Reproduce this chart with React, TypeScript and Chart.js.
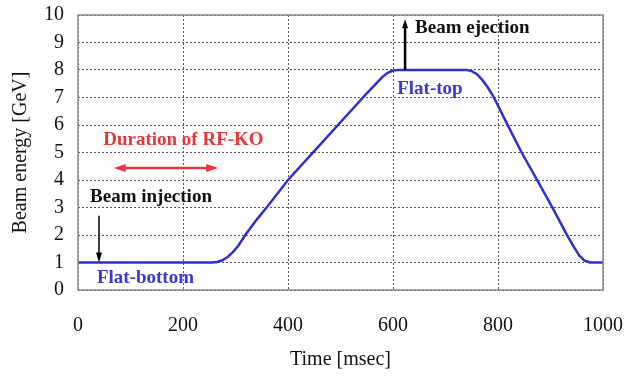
import React, { useEffect, useRef } from "react";
import { Chart, registerables } from "chart.js";

Chart.register(...registerables);

const timeMs = [0, 255, 265, 275, 285, 295, 305, 318, 340, 360, 400, 450, 500, 550, 570, 580, 590, 600, 610, 740, 750, 760, 770, 780, 790, 800, 817, 845, 876, 905, 930, 945, 955, 965, 975, 1000];
const energyGeV = [1, 1, 1.02, 1.08, 1.2, 1.38, 1.6, 1.98, 2.55, 3.02, 4.0, 5.05, 6.1, 7.15, 7.55, 7.75, 7.9, 7.98, 8, 8, 7.96, 7.85, 7.64, 7.38, 7.08, 6.7, 6.05, 5.0, 3.95, 2.95, 2.05, 1.55, 1.25, 1.07, 1, 1];
const xTicks = [0, 200, 400, 600, 800, 1000];
const yTicks = [0, 1, 2, 3, 4, 5, 6, 7, 8, 9, 10];

const SERIF = "'Liberation Serif', 'DejaVu Serif', serif";

const annotPlugin = {
  id: "annot",
  afterDatasetsDraw(chart: any) {
    const { ctx, chartArea, scales } = chart;
    const X = (v: number) => scales.x.getPixelForValue(v);
    const Y = (v: number) => scales.y.getPixelForValue(v);
    ctx.save();
    ctx.strokeStyle = "#8a8a8a";
    ctx.lineWidth = 1.5;
    ctx.strokeRect(chartArea.left, chartArea.top, chartArea.right - chartArea.left, chartArea.bottom - chartArea.top);

    const arrowHead = (x: number, y: number, ang: number, size: number, w: number) => {
      ctx.beginPath();
      ctx.moveTo(x, y);
      ctx.lineTo(x - size * Math.cos(ang) + w * Math.sin(ang), y - size * Math.sin(ang) - w * Math.cos(ang));
      ctx.lineTo(x - size * Math.cos(ang) - w * Math.sin(ang), y - size * Math.sin(ang) + w * Math.cos(ang));
      ctx.closePath();
      ctx.fill();
    };

    ctx.strokeStyle = "#000";
    ctx.fillStyle = "#000";
    ctx.lineWidth = 2.5;
    let x = X(623);
    ctx.beginPath();
    ctx.moveTo(x, Y(8));
    ctx.lineTo(x, Y(9.6));
    ctx.stroke();
    arrowHead(x, Y(9.85), -Math.PI / 2, 9, 3);

    x = X(40);
    ctx.lineWidth = 1.5;
    ctx.beginPath();
    ctx.moveTo(x, Y(2.7));
    ctx.lineTo(x, Y(1.3));
    ctx.stroke();
    arrowHead(x, Y(1.0), Math.PI / 2, 10, 3);

    ctx.strokeStyle = "#e8353a";
    ctx.fillStyle = "#e8353a";
    ctx.lineWidth = 2.5;
    const yy = Y(4.44);
    const x1 = X(68), x2 = X(267);
    ctx.beginPath();
    ctx.moveTo(x1 + 8, yy);
    ctx.lineTo(x2 - 8, yy);
    ctx.stroke();
    arrowHead(x1, yy, Math.PI, 12, 4);
    arrowHead(x2, yy, 0, 12, 4);

    ctx.font = `bold 19px ${SERIF}`;
    ctx.textBaseline = "middle";
    ctx.textAlign = "left";
    ctx.fillStyle = "#111";
    ctx.fillText("Beam ejection", X(642), Y(9.53));
    ctx.fillText("Beam injection", X(23), Y(3.38));
    ctx.fillStyle = "#3a3ad0";
    ctx.fillText("Flat-top", X(608), Y(7.3));
    ctx.fillText("Flat-bottom", X(36), Y(0.44));
    ctx.fillStyle = "#e8353a";
    ctx.fillText("Duration of RF-KO", X(48), Y(5.45));
    ctx.restore();
  },
};

export default function App() {
  const ref = useRef<HTMLCanvasElement | null>(null);
  useEffect(() => {
    if (!ref.current) return;
    const chart = new Chart(ref.current, {
      type: "line",
      data: {
        datasets: [
          {
            data: timeMs.map((t, i) => ({ x: t, y: energyGeV[i] })),
            borderColor: "#2f2fd0",
            borderWidth: 2.5,
            pointRadius: 0,
            tension: 0,
            fill: false,
          },
        ],
      },
      options: {
        animation: false,
        responsive: false,
        maintainAspectRatio: false,
        layout: { padding: { top: 15, right: 25, left: 0, bottom: 0 } },
        plugins: { legend: { display: false }, tooltip: { enabled: false } },
        scales: {
          x: {
            type: "linear",
            min: 0,
            max: 1000,
            afterBuildTicks: (ax: any) => {
              ax.ticks = xTicks.map((v) => ({ value: v }));
            },
            afterFit: (ax: any) => {
              ax.height = 86;
              ax.paddingLeft = 0;
              ax.paddingRight = 0;
            },
            grid: { color: "#555", lineWidth: 1, drawTicks: false },
            border: { display: false, dash: [2, 2] },
            ticks: { color: "#111", padding: 24, autoSkip: false, maxRotation: 0, font: { family: SERIF, size: 20 }, callback: (v: any) => String(v) },
            title: { display: true, text: "Time [msec]", color: "#111", font: { family: SERIF, size: 20 }, padding: { top: 6 } },
          },
          y: {
            type: "linear",
            min: 0,
            max: 10,
            afterBuildTicks: (ax: any) => {
              ax.ticks = yTicks.map((v) => ({ value: v }));
            },
            afterFit: (ax: any) => {
              ax.width = 78;
              ax.paddingTop = 0;
              ax.paddingBottom = 0;
            },
            grid: { color: "#555", lineWidth: 1, drawTicks: false },
            border: { display: false, dash: [2, 2] },
            ticks: { color: "#111", padding: 14, autoSkip: false, font: { family: SERIF, size: 20 }, callback: (v: any) => String(v) },
            title: { display: true, text: "Beam energy [GeV]", color: "#111", font: { family: SERIF, size: 20 }, padding: { top: 9, bottom: 0 } },
          },
        },
      },
      plugins: [annotPlugin],
    } as any);
    return () => chart.destroy();
  }, []);
  return (
    <div style={{ position: "fixed", left: 0, top: 0, width: 628, height: 376, background: "#fff" }}>
      <canvas ref={ref} width={628} height={376} style={{ width: 628, height: 376 }} />
    </div>
  );
}
